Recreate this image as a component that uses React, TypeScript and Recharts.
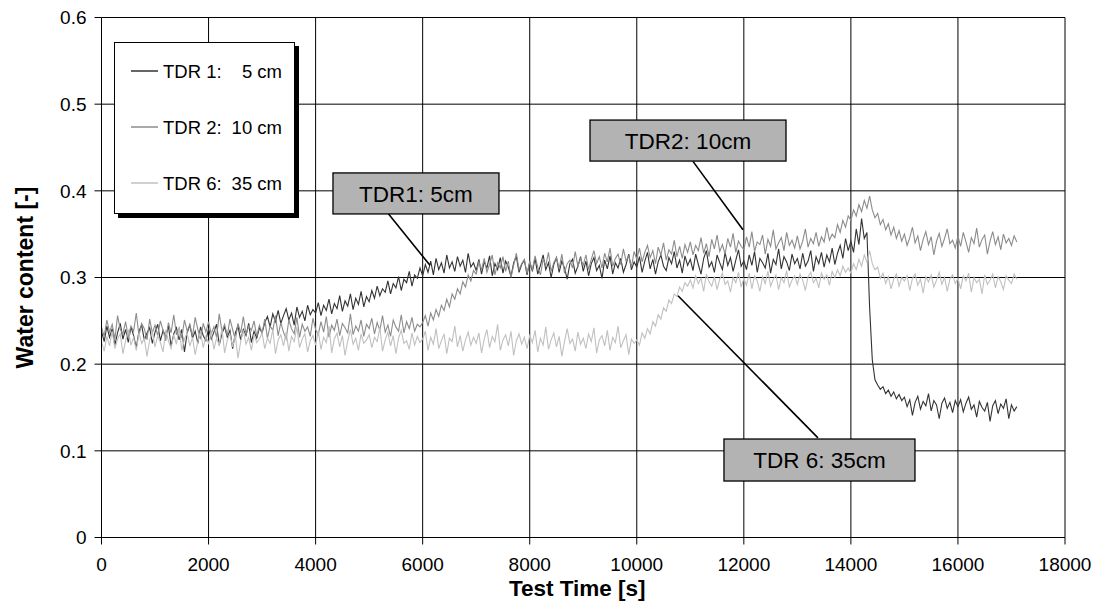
import * as React from "react";
import {
  CartesianGrid,
  Label,
  Line,
  LineChart,
  ReferenceDot,
  ReferenceLine,
  XAxis,
  YAxis,
} from "recharts";

const FONT = "'Liberation Sans', Arial, Helvetica, sans-serif";

// one reading every 50 s, starting at 0 s
const TIME_STEP = 50;

const X_TICKS = [0, 2000, 4000, 6000, 8000, 10000, 12000, 14000, 16000, 18000];
const Y_TICKS = [0, 0.1, 0.2, 0.3, 0.4, 0.5, 0.6];

// TDR 1, 5 cm  (20 readings per row = 1000 s)
const TDR1 = [
  0.238, 0.226, 0.244, 0.231, 0.241, 0.222, 0.236, 0.247, 0.229, 0.240, 0.225, 0.243, 0.233, 0.219, 0.238, 0.245, 0.228, 0.236, 0.242, 0.224,
  0.237, 0.246, 0.227, 0.239, 0.232, 0.244, 0.221, 0.235, 0.242, 0.228, 0.240, 0.214, 0.236, 0.245, 0.230, 0.238, 0.224, 0.243, 0.233, 0.227,
  0.241, 0.229, 0.237, 0.246, 0.222, 0.235, 0.243, 0.231, 0.239, 0.218, 0.236, 0.244, 0.228, 0.240, 0.233, 0.247, 0.225, 0.238, 0.230, 0.242,
  0.236, 0.248, 0.255, 0.243, 0.258, 0.249, 0.262, 0.247, 0.256, 0.264, 0.251, 0.259, 0.245, 0.266, 0.254, 0.261, 0.250, 0.268, 0.257, 0.263,
  0.259, 0.271, 0.256, 0.268, 0.262, 0.275, 0.258, 0.270, 0.264, 0.279, 0.261, 0.273, 0.267, 0.281, 0.263, 0.276, 0.269, 0.284, 0.266, 0.278,
  0.272, 0.285, 0.276, 0.290, 0.279, 0.287, 0.283, 0.296, 0.281, 0.293, 0.288, 0.301, 0.285, 0.298, 0.294, 0.307, 0.290, 0.303, 0.299, 0.311,
  0.302, 0.315, 0.306, 0.319, 0.303, 0.322, 0.309, 0.317, 0.305, 0.326, 0.311, 0.318, 0.307, 0.324, 0.313, 0.320, 0.306, 0.328, 0.312, 0.317,
  0.308, 0.321, 0.304, 0.318, 0.311, 0.325, 0.302, 0.316, 0.309, 0.323, 0.305, 0.319, 0.312, 0.301, 0.317, 0.324, 0.306, 0.315, 0.320, 0.303,
  0.318, 0.307, 0.322, 0.304, 0.314, 0.326, 0.309, 0.317, 0.300, 0.315, 0.323, 0.306, 0.319, 0.311, 0.298, 0.316, 0.321, 0.305, 0.313, 0.324,
  0.307, 0.319, 0.302, 0.316, 0.323, 0.308, 0.314, 0.299, 0.320, 0.310, 0.325, 0.304, 0.317, 0.311, 0.322, 0.306, 0.315, 0.327, 0.309, 0.318,
  0.312, 0.324, 0.306, 0.319, 0.329, 0.310, 0.321, 0.304, 0.318, 0.326, 0.313, 0.308, 0.323, 0.316, 0.330, 0.311, 0.320, 0.305, 0.325, 0.314,
  0.321, 0.308, 0.327, 0.315, 0.304, 0.322, 0.331, 0.312, 0.318, 0.306, 0.326, 0.317, 0.309, 0.329, 0.314, 0.323, 0.307, 0.320, 0.332, 0.313,
  0.319, 0.309, 0.326, 0.314, 0.330, 0.306, 0.322, 0.317, 0.311, 0.328, 0.305, 0.321, 0.315, 0.333, 0.310, 0.324, 0.318, 0.308, 0.327, 0.316,
  0.322, 0.310, 0.328, 0.313, 0.319, 0.331, 0.307, 0.324, 0.316, 0.329, 0.312, 0.326, 0.318, 0.334, 0.315, 0.328, 0.337, 0.322, 0.345, 0.331,
  0.342, 0.329, 0.356, 0.338, 0.368, 0.345, 0.352, 0.265, 0.205, 0.182, 0.176, 0.171, 0.174, 0.166, 0.170, 0.163, 0.168, 0.160, 0.165, 0.158,
  0.162, 0.151, 0.159, 0.141, 0.156, 0.163, 0.148, 0.157, 0.152, 0.166, 0.146, 0.158, 0.153, 0.137, 0.155, 0.161, 0.149, 0.156, 0.144, 0.158,
  0.151, 0.159, 0.145, 0.155, 0.162, 0.148, 0.153, 0.139, 0.157, 0.150, 0.146, 0.156, 0.134, 0.152, 0.158, 0.143, 0.154, 0.149, 0.160, 0.137,
  0.153, 0.146, 0.151,
];

// TDR 2, 10 cm
const TDR2 = [
  0.243, 0.232, 0.251, 0.237, 0.246, 0.229, 0.256, 0.240, 0.235, 0.249, 0.231, 0.244, 0.238, 0.259, 0.233, 0.247, 0.241, 0.228, 0.252, 0.236,
  0.245, 0.233, 0.250, 0.239, 0.227, 0.248, 0.236, 0.257, 0.234, 0.242, 0.230, 0.251, 0.238, 0.246, 0.232, 0.254, 0.240, 0.229, 0.247, 0.237,
  0.249, 0.235, 0.243, 0.231, 0.258, 0.238, 0.246, 0.233, 0.252, 0.240, 0.228, 0.247, 0.236, 0.255, 0.234, 0.244, 0.239, 0.250, 0.232, 0.245,
  0.236, 0.252, 0.230, 0.244, 0.239, 0.256, 0.233, 0.248, 0.237, 0.229, 0.251, 0.241, 0.235, 0.254, 0.231, 0.246, 0.238, 0.243, 0.232, 0.253,
  0.240, 0.234, 0.249, 0.237, 0.255, 0.231, 0.245, 0.239, 0.252, 0.233, 0.247, 0.242, 0.236, 0.258, 0.234, 0.244, 0.238, 0.251, 0.232, 0.246,
  0.241, 0.253, 0.235, 0.248, 0.239, 0.256, 0.237, 0.245, 0.232, 0.251, 0.243, 0.238, 0.257, 0.236, 0.249, 0.241, 0.254, 0.238, 0.246, 0.243,
  0.248, 0.256, 0.244, 0.259, 0.251, 0.263, 0.255, 0.268, 0.262, 0.275, 0.266, 0.281, 0.275, 0.287, 0.281, 0.295, 0.289, 0.303, 0.296, 0.308,
  0.304, 0.318, 0.309, 0.322, 0.306, 0.315, 0.326, 0.303, 0.317, 0.311, 0.324, 0.307, 0.319, 0.300, 0.314, 0.328, 0.309, 0.316, 0.321, 0.305,
  0.318, 0.309, 0.325, 0.312, 0.303, 0.321, 0.314, 0.329, 0.307, 0.317, 0.323, 0.310, 0.327, 0.305, 0.316, 0.320, 0.311, 0.330, 0.313, 0.322,
  0.314, 0.326, 0.309, 0.321, 0.331, 0.316, 0.324, 0.311, 0.328, 0.318, 0.334, 0.313, 0.322, 0.327, 0.315, 0.333, 0.319, 0.325, 0.312, 0.330,
  0.321, 0.334, 0.318, 0.329, 0.337, 0.323, 0.331, 0.316, 0.335, 0.326, 0.340, 0.320, 0.332, 0.327, 0.343, 0.324, 0.336, 0.322, 0.338, 0.329,
  0.341, 0.326, 0.337, 0.331, 0.346, 0.328, 0.339, 0.324, 0.344, 0.333, 0.349, 0.330, 0.338, 0.327, 0.345, 0.335, 0.351, 0.329, 0.342, 0.336,
  0.332, 0.347, 0.335, 0.353, 0.330, 0.341, 0.338, 0.349, 0.327, 0.344, 0.336, 0.355, 0.333, 0.340, 0.346, 0.331, 0.352, 0.337, 0.343, 0.334,
  0.348, 0.333, 0.342, 0.356, 0.335, 0.345, 0.339, 0.352, 0.336, 0.347, 0.341, 0.358, 0.343, 0.350, 0.346, 0.361, 0.352, 0.366, 0.358, 0.371,
  0.366, 0.378, 0.371, 0.384, 0.376, 0.389, 0.380, 0.394, 0.378, 0.369, 0.374, 0.361, 0.367, 0.355, 0.362, 0.349, 0.358, 0.345, 0.354, 0.342,
  0.350, 0.337, 0.346, 0.358, 0.340, 0.348, 0.331, 0.344, 0.353, 0.338, 0.347, 0.326, 0.342, 0.351, 0.336, 0.345, 0.356, 0.339, 0.343, 0.334,
  0.348, 0.336, 0.352, 0.341, 0.329, 0.346, 0.339, 0.357, 0.335, 0.344, 0.349, 0.327, 0.342, 0.353, 0.338, 0.347, 0.332, 0.350, 0.340, 0.345,
  0.337, 0.348, 0.341,
];

// TDR 6, 35 cm
const TDR6 = [
  0.226, 0.215, 0.232, 0.221, 0.238, 0.218, 0.229, 0.235, 0.212, 0.227, 0.240, 0.222, 0.231, 0.216, 0.236, 0.224, 0.230, 0.209, 0.228, 0.237,
  0.220, 0.233, 0.225, 0.214, 0.239, 0.227, 0.218, 0.234, 0.223, 0.242, 0.216, 0.229, 0.236, 0.221, 0.231, 0.211, 0.226, 0.238, 0.219, 0.232,
  0.224, 0.237, 0.217, 0.230, 0.222, 0.241, 0.213, 0.228, 0.235, 0.220, 0.233, 0.207, 0.226, 0.239, 0.223, 0.231, 0.216, 0.234, 0.225, 0.229,
  0.236, 0.218, 0.230, 0.224, 0.240, 0.212, 0.228, 0.234, 0.221, 0.237, 0.215, 0.232, 0.226, 0.243, 0.219, 0.229, 0.235, 0.214, 0.227, 0.233,
  0.222, 0.238, 0.217, 0.231, 0.225, 0.244, 0.213, 0.229, 0.236, 0.220, 0.233, 0.210, 0.227, 0.240, 0.223, 0.230, 0.216, 0.235, 0.224, 0.228,
  0.234, 0.219, 0.231, 0.226, 0.242, 0.215, 0.228, 0.237, 0.221, 0.233, 0.212, 0.230, 0.239, 0.224, 0.227, 0.217, 0.236, 0.222, 0.232, 0.225,
  0.229, 0.238, 0.216, 0.231, 0.223, 0.241, 0.218, 0.227, 0.235, 0.212, 0.230, 0.226, 0.244, 0.220, 0.233, 0.215, 0.228, 0.237, 0.222, 0.231,
  0.224, 0.236, 0.213, 0.229, 0.240, 0.219, 0.232, 0.226, 0.246, 0.216, 0.228, 0.234, 0.221, 0.238, 0.210, 0.227, 0.235, 0.223, 0.231, 0.218,
  0.233, 0.225, 0.239, 0.214, 0.230, 0.222, 0.243, 0.217, 0.228, 0.236, 0.220, 0.232, 0.209, 0.226, 0.241, 0.224, 0.229, 0.215, 0.237, 0.223,
  0.230, 0.218, 0.235, 0.226, 0.242, 0.213, 0.228, 0.233, 0.221, 0.239, 0.216, 0.231, 0.225, 0.244, 0.219, 0.227, 0.234, 0.211, 0.229, 0.224,
  0.228, 0.222, 0.236, 0.230, 0.241, 0.235, 0.249, 0.244, 0.257, 0.252, 0.265, 0.261, 0.274, 0.270, 0.281, 0.278, 0.289, 0.284, 0.294, 0.290,
  0.297, 0.288, 0.302, 0.293, 0.299, 0.284, 0.304, 0.295, 0.290, 0.301, 0.286, 0.298, 0.305, 0.292, 0.296, 0.283, 0.300, 0.294, 0.306, 0.289,
  0.299, 0.291, 0.305, 0.287, 0.302, 0.296, 0.284, 0.301, 0.293, 0.307, 0.290, 0.298, 0.303, 0.286, 0.300, 0.294, 0.308, 0.289, 0.297, 0.302,
  0.292, 0.304, 0.297, 0.285, 0.301, 0.306, 0.294, 0.299, 0.288, 0.305, 0.298, 0.303, 0.291, 0.307, 0.300, 0.309, 0.302, 0.313, 0.306, 0.311,
  0.305, 0.316, 0.309, 0.321, 0.313, 0.326, 0.318, 0.331, 0.316, 0.309, 0.312, 0.299, 0.305, 0.293, 0.301, 0.287, 0.298, 0.304, 0.290, 0.300,
  0.296, 0.302, 0.285, 0.299, 0.304, 0.291, 0.298, 0.282, 0.301, 0.295, 0.303, 0.289, 0.297, 0.306, 0.292, 0.300, 0.284, 0.298, 0.303, 0.293,
  0.299, 0.287, 0.302, 0.296, 0.305, 0.283, 0.300, 0.294, 0.298, 0.281, 0.303, 0.292, 0.297, 0.304, 0.288, 0.301, 0.295, 0.286, 0.302, 0.297,
  0.293, 0.304, 0.298,
];

const SERIES = [
  { key: "tdr1", name: "TDR 1:", depth: "5 cm", color: "#333333" },
  { key: "tdr2", name: "TDR 2:", depth: "10 cm", color: "#8c8c8c" },
  { key: "tdr6", name: "TDR 6:", depth: "35 cm", color: "#c0c0c0" },
];

// callout boxes, placed in data units (time, water content)
const CALLOUTS = [
  { text: "TDR1: 5cm", at: [5875, 0.397], size: [166, 41], leader: [[5352, 0.374], [6137, 0.314]] },
  { text: "TDR2: 10cm", at: [10957, 0.458], size: [196, 41], leader: [[11050, 0.434], [11984, 0.355]] },
  { text: "TDR 6: 35cm", at: [13413, 0.0894], size: [191, 42], leader: [[10770, 0.279], [13385, 0.115]] },
];

const data = TDR1.map((v, i) => ({
  t: i * TIME_STEP,
  tdr1: v,
  tdr2: TDR2[i],
  tdr6: TDR6[i],
}));

function calloutShape(text: string, w: number, h: number) {
  return (props: any) => {
    const { cx, cy } = props;
    return (
      <g>
        <rect
          x={cx - w / 2}
          y={cy - h / 2}
          width={w}
          height={h}
          fill="#b3b3b3"
          stroke="#000"
          strokeWidth={1.3}
        />
        <text
          x={cx}
          y={cy}
          dy="0.36em"
          textAnchor="middle"
          fontFamily={FONT}
          fontSize={22.5}
          fill="#000"
        >
          {text}
        </text>
      </g>
    );
  };
}

function LegendBox() {
  return (
    <svg
      width={190}
      height={180}
      style={{ position: "absolute", left: 114, top: 42 }}
    >
      <rect x={4} y={4} width={181} height={172} fill="#000" />
      <rect x={0.5} y={0.5} width={180} height={171} fill="#fff" stroke="#000" />
      {SERIES.map((s, i) => {
        const y = 29 + i * 56;
        return (
          <g key={s.key} fontFamily={FONT} fontSize={18.5} fill="#000">
            <line x1={17} x2={44} y1={y} y2={y} stroke={s.color} strokeWidth={1.5} />
            <text x={49} y={y} dy="0.36em">
              {s.name}
            </text>
            <text x={168} y={y} dy="0.36em" textAnchor="end">
              {s.depth}
            </text>
          </g>
        );
      })}
    </svg>
  );
}

export default function App() {
  const tick = { fill: "#000", fontSize: 19, fontFamily: FONT };
  return (
    <div
      style={{
        position: "absolute",
        left: 0,
        top: 0,
        width: 1095,
        height: 601,
        background: "#fff",
      }}
    >
      <LineChart
        width={1095}
        height={601}
        data={data}
        margin={{ top: 17.5, right: 30, bottom: 0, left: 0 }}
      >
        <CartesianGrid stroke="#000" strokeWidth={1} />
        <XAxis
          dataKey="t"
          type="number"
          domain={[0, 18000]}
          ticks={X_TICKS}
          height={63.5}
          stroke="#000"
          tickSize={7}
          tickMargin={13}
          tick={tick}
          interval={0}
        >
          <Label
            content={(p: any) => {
              const vb = p.viewBox || {};
              return (
                <text
                  x={vb.x + vb.width / 2 - 6}
                  y={vb.y + vb.height - 5}
                  textAnchor="middle"
                  fontFamily={FONT}
                  fontWeight="bold"
                  fontSize={22.5}
                  fill="#000"
                >
                  Test Time [s]
                </text>
              );
            }}
          />
        </XAxis>
        <YAxis
          type="number"
          domain={[0, 0.6]}
          ticks={Y_TICKS}
          width={101.5}
          stroke="#000"
          tickSize={7}
          tickMargin={8}
          tick={tick}
          interval={0}
          tickFormatter={(v: number) => (v === 0 ? "0" : v.toFixed(1))}
        >
          <Label
            content={(p: any) => {
              const vb = p.viewBox || {};
              const cx = vb.x + 25;
              const cy = vb.y + vb.height / 2;
              return (
                <text
                  x={cx}
                  y={cy}
                  dy="0.36em"
                  transform={`rotate(-90 ${cx} ${cy})`}
                  textAnchor="middle"
                  fontFamily={FONT}
                  fontWeight="bold"
                  fontSize={23}
                  fill="#000"
                >
                  Water content [-]
                </text>
              );
            }}
          />
        </YAxis>
        {SERIES.map((s) => (
          <Line
            key={s.key}
            dataKey={s.key}
            name={s.name}
            type="linear"
            stroke={s.color}
            strokeWidth={1.1}
            dot={false}
            activeDot={false}
            isAnimationActive={false}
          />
        ))}
        {CALLOUTS.map((c) => (
          <ReferenceLine
            key={`leader-${c.text}`}
            segment={[
              { x: c.leader[0][0], y: c.leader[0][1] },
              { x: c.leader[1][0], y: c.leader[1][1] },
            ]}
            stroke="#000"
            strokeWidth={1.6}
          />
        ))}
        {CALLOUTS.map((c) => (
          <ReferenceDot
            key={`box-${c.text}`}
            x={c.at[0]}
            y={c.at[1]}
            r={0}
            ifOverflow="visible"
            shape={calloutShape(c.text, c.size[0], c.size[1])}
          />
        ))}
      </LineChart>
      <LegendBox />
    </div>
  );
}
